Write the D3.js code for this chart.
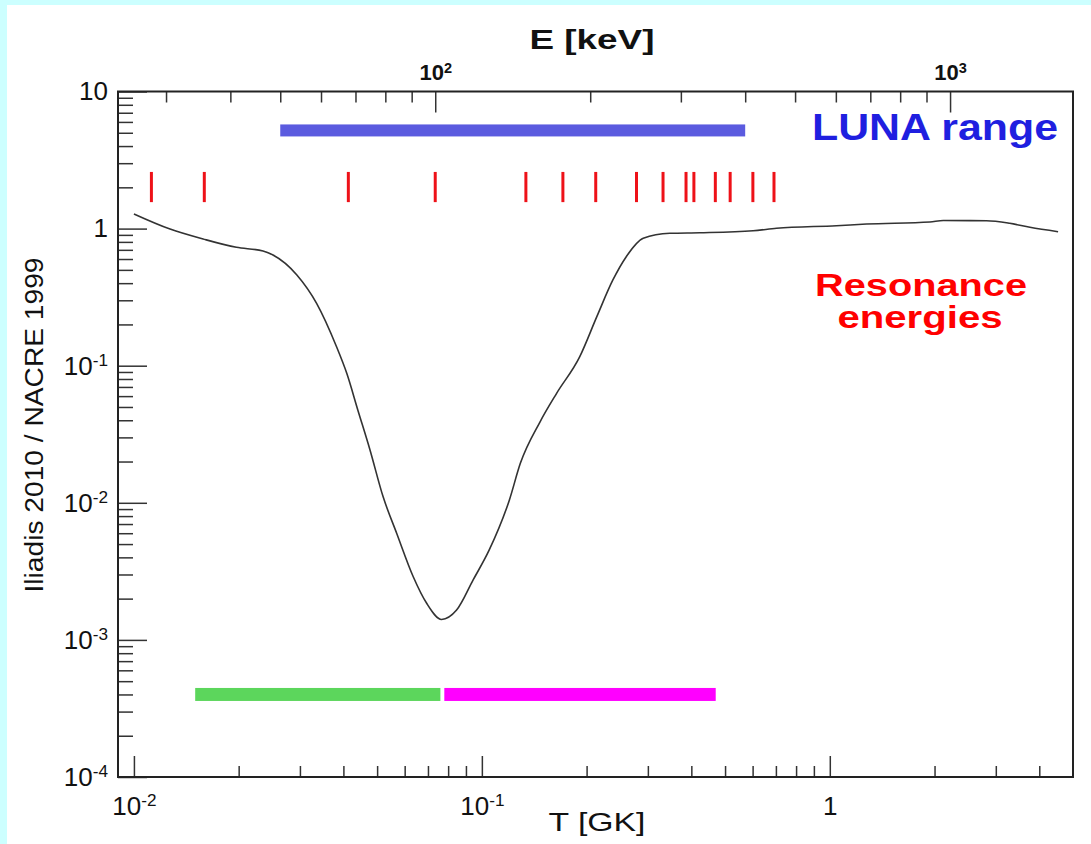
<!DOCTYPE html>
<html>
<head>
<meta charset="utf-8">
<script src="https://cdn.jsdelivr.net/npm/d3@7"></script>
<style>
  html, body { margin: 0; padding: 0; background: #ccffff; }
  svg { display: block; font-family: "Liberation Sans", Arial, Helvetica, sans-serif; }
</style>
</head>
<body>
<svg id="chart" width="1091" height="844"></svg>
<script>
// ratio curve Iliadis 2010 / NACRE 1999 vs temperature (GK)
var tempGK = [0.0100, 0.0127, 0.0158, 0.0197, 0.0235, 0.0251, 0.0294, 0.0335, 0.0382, 0.0409,
  0.0440, 0.0477, 0.0520, 0.0569, 0.0635, 0.0694, 0.0766, 0.0846, 0.0944, 0.105,
  0.120, 0.129, 0.147, 0.164, 0.191, 0.214, 0.238, 0.260, 0.291, 0.347,
  0.423, 0.602, 0.703, 1.045, 1.275, 1.94, 2.12, 2.82, 3.29, 3.76, 4.53];
var ratio = [1.28, 0.993, 0.84, 0.73, 0.686, 0.642, 0.459, 0.285, 0.138, 0.088,
  0.0476, 0.0243, 0.0111, 0.0060, 0.00289, 0.00185, 0.00141, 0.00165, 0.00274, 0.00453,
  0.0105, 0.0194, 0.039, 0.0629, 0.116, 0.228, 0.422, 0.624, 0.85, 0.924,
  0.933, 0.965, 1.005, 1.05, 1.08, 1.118, 1.145, 1.142, 1.093, 1.022, 0.949];

// resonance energies (keV, upper axis)
var resonanceKeV = [28.1, 35.6, 67.8, 100, 150, 177, 205, 246, 277, 307, 318, 350, 374, 414, 455];
var resonanceSpan = [1.56, 2.59];

// ranges
var lunaRangeKeV = [50, 400];
var lunaLevel = 5.2;
var lowRangeGK = [0.015, 0.076];
var highRangeGK = [0.078, 0.47];
var rangeLevel = 4e-4;

// axis domains and labelled ticks
var tDomain = [0.009, 5];
var eDomain = [24.2, 1733];
var yDomain = [1e-4, 10];
var yMajor = [1e-4, 1e-3, 1e-2, 1e-1, 1, 10];
var tMajor = [0.01, 0.1, 1];
var eMajor = [100, 1000];

var plot = { left: 118, right: 1073, top: 91.5, bottom: 777 };

var svg = d3.select('#chart');

// panel
svg.append('rect')
  .attr('width', 1091).attr('height', 844)
  .attr('fill', '#ccffff');
svg.append('rect')
  .attr('x', 7).attr('y', 5)
  .attr('width', 1084).attr('height', 839)
  .attr('fill', '#ffffff');

var x = d3.scaleLog().domain(tDomain).range([plot.left, plot.right]);
var xE = d3.scaleLog().domain(eDomain).range([plot.left, plot.right]);
var y = d3.scaleLog().domain(yDomain).range([plot.bottom, plot.top]);

function isMajor(list) {
  return function(v) {
    return list.some(function(m) { return Math.abs(v / m - 1) < 1e-6; });
  };
}
function minorOf(scale, list) {
  var d = scale.domain();
  return scale.ticks().filter(function(v) {
    return !isMajor(list)(v) && v > d[0] * 1.02 && v < d[1] * 0.98;
  });
}

// write 10^n with a raised exponent
function powLabel(v) {
  var t = d3.select(this), n = Math.round(Math.log10(v));
  t.text(null);
  if (n === 0) { t.text('1'); return; }
  if (n === 1) { t.text('10'); return; }
  t.append('tspan').text('10');
  t.append('tspan').attr('dy', '-0.5em').attr('font-size', '0.66em').text(String(n));
}

function styleAxis(g, size, weight) {
  g.attr('font-family', null).attr('font-size', size).attr('font-weight', weight || null);
  g.select('.domain').remove();
  g.selectAll('line').attr('stroke', '#333').attr('stroke-width', 1.5);
  g.selectAll('text').attr('fill', '#111');
}

// left axis
svg.append('g')
  .attr('transform', 'translate(' + plot.left + ',0)')
  .call(d3.axisLeft(y).tickValues(minorOf(y, yMajor)).tickSizeInner(-15).tickSizeOuter(0).tickFormat(''))
  .call(styleAxis, 26);
var gLeft = svg.append('g')
  .attr('transform', 'translate(' + plot.left + ',0)')
  .call(d3.axisLeft(y).tickValues(yMajor).tickSizeInner(-29).tickSizeOuter(0).tickPadding(10))
  .call(styleAxis, 26);
gLeft.selectAll('text').each(powLabel);

// bottom axis
svg.append('g')
  .attr('transform', 'translate(0,' + plot.bottom + ')')
  .call(d3.axisBottom(x).tickValues(minorOf(x, tMajor)).tickSizeInner(-11).tickSizeOuter(0).tickFormat(''))
  .call(styleAxis, 26);
var gBottom = svg.append('g')
  .attr('transform', 'translate(0,' + plot.bottom + ')')
  .call(d3.axisBottom(x).tickValues(tMajor).tickSizeInner(-21).tickSizeOuter(0))
  .call(styleAxis, 26);
gBottom.selectAll('text').attr('y', 38).attr('dy', 0).each(powLabel);

// top axis (energy)
svg.append('g')
  .attr('transform', 'translate(0,' + plot.top + ')')
  .call(d3.axisTop(xE).tickValues(minorOf(xE, eMajor)).tickSizeInner(-11).tickSizeOuter(0).tickFormat(''))
  .call(styleAxis, 22);
var gTop = svg.append('g')
  .attr('transform', 'translate(0,' + plot.top + ')')
  .call(d3.axisTop(xE).tickValues(eMajor).tickSizeInner(-21).tickSizeOuter(0).tickPadding(11.5))
  .call(styleAxis, 22, 'bold');
gTop.selectAll('text').attr('dy', 0).each(powLabel);

// LUNA range bar
svg.append('rect')
  .attr('x', xE(lunaRangeKeV[0]))
  .attr('y', y(lunaLevel) - 6)
  .attr('width', xE(lunaRangeKeV[1]) - xE(lunaRangeKeV[0]))
  .attr('height', 12)
  .attr('fill', '#5b5bdf');

// resonance markers
svg.append('g').selectAll('line')
  .data(resonanceKeV)
  .enter()
  .append('line')
  .attr('x1', function(d) { return xE(d); })
  .attr('x2', function(d) { return xE(d); })
  .attr('y1', y(resonanceSpan[1]))
  .attr('y2', y(resonanceSpan[0]))
  .attr('stroke', '#ee1118')
  .attr('stroke-width', 3);

// temperature ranges at the bottom
var ranges = [
  { r: lowRangeGK, color: '#5cd65c' },
  { r: highRangeGK, color: '#ff00ff' }
];
svg.append('g').selectAll('rect')
  .data(ranges)
  .enter()
  .append('rect')
  .attr('x', function(d) { return x(d.r[0]); })
  .attr('width', function(d) { return x(d.r[1]) - x(d.r[0]); })
  .attr('y', y(rangeLevel) - 6.5)
  .attr('height', 13)
  .attr('fill', function(d) { return d.color; });

// ratio curve
var line = d3.line()
  .x(function(d) { return x(d[0]); })
  .y(function(d) { return y(d[1]); })
  .curve(d3.curveMonotoneX);
svg.append('path')
  .datum(d3.zip(tempGK, ratio))
  .attr('d', line)
  .attr('fill', 'none')
  .attr('stroke', '#333')
  .attr('stroke-width', 1.6);

// frame
svg.append('rect')
  .attr('x', plot.left).attr('y', plot.top)
  .attr('width', plot.right - plot.left).attr('height', plot.bottom - plot.top)
  .attr('fill', 'none')
  .attr('stroke', '#222')
  .attr('stroke-width', 2);

// titles
svg.append('text')
  .attr('x', 592).attr('y', 49)
  .attr('text-anchor', 'middle')
  .attr('font-size', 28).attr('font-weight', 'bold')
  .attr('textLength', 125).attr('lengthAdjust', 'spacingAndGlyphs')
  .attr('fill', '#111')
  .text('E [keV]');
svg.append('text')
  .attr('x', 597).attr('y', 831)
  .attr('text-anchor', 'middle')
  .attr('font-size', 26)
  .attr('textLength', 97).attr('lengthAdjust', 'spacingAndGlyphs')
  .attr('fill', '#111')
  .text('T [GK]');
svg.append('text')
  .attr('transform', 'translate(43,425) rotate(-90)')
  .attr('text-anchor', 'middle')
  .attr('font-size', 26)
  .attr('textLength', 335).attr('lengthAdjust', 'spacingAndGlyphs')
  .attr('fill', '#111')
  .text('Iliadis 2010 / NACRE 1999');

// annotations
svg.append('text')
  .attr('x', 935).attr('y', 140)
  .attr('text-anchor', 'middle')
  .attr('font-size', 36).attr('font-weight', 'bold')
  .attr('textLength', 246).attr('lengthAdjust', 'spacingAndGlyphs')
  .attr('fill', '#1f1fe0')
  .text('LUNA range');
svg.append('text')
  .attr('x', 921).attr('y', 296)
  .attr('text-anchor', 'middle')
  .attr('font-size', 32).attr('font-weight', 'bold')
  .attr('textLength', 212).attr('lengthAdjust', 'spacingAndGlyphs')
  .attr('fill', '#ff0000')
  .text('Resonance');
svg.append('text')
  .attr('x', 920).attr('y', 328)
  .attr('text-anchor', 'middle')
  .attr('font-size', 32).attr('font-weight', 'bold')
  .attr('textLength', 165).attr('lengthAdjust', 'spacingAndGlyphs')
  .attr('fill', '#ff0000')
  .text('energies');
</script>
</body>
</html>
